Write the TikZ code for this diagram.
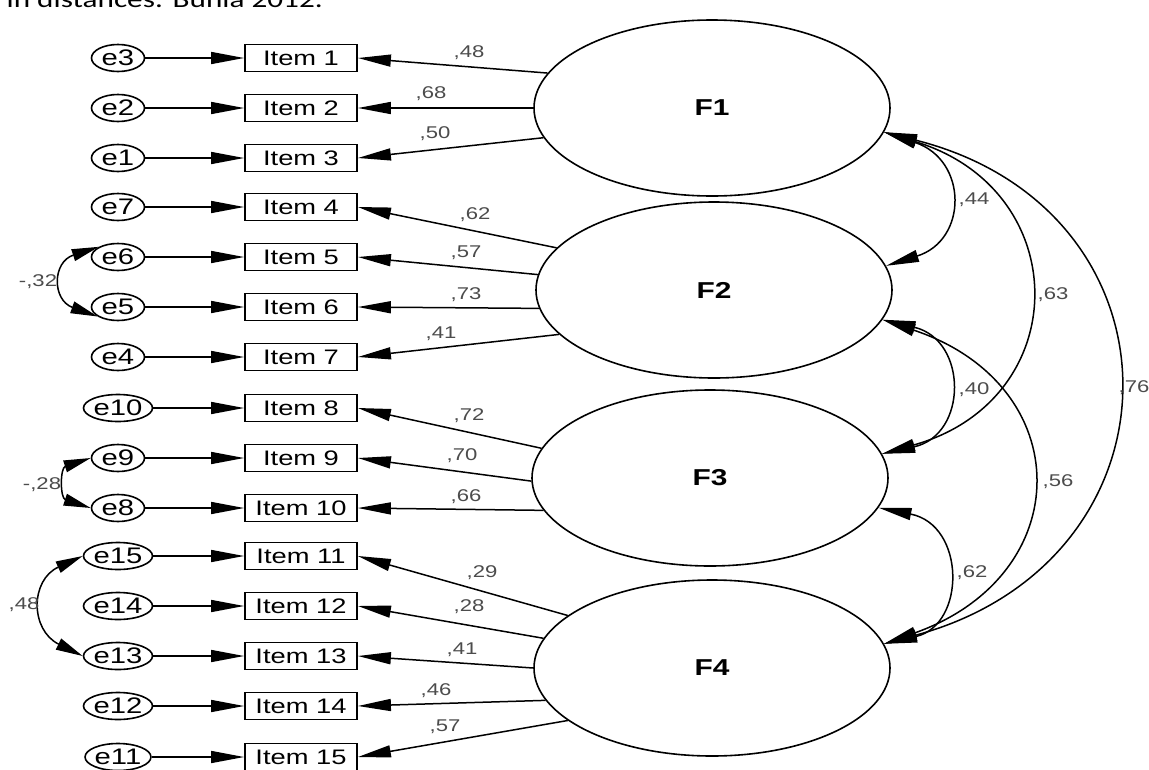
\documentclass[tikz,border=0pt]{standalone}
\usepackage{fontspec}
\setmainfont{Liberation Sans}
\newfontfamily\labfont{Liberation Sans}[FakeStretch=1.3]
\newfontfamily\capfont{Carlito}
\usetikzlibrary{shapes.geometric,arrows.meta}
\begin{document}
\begin{tikzpicture}[x=1pt,y=-1pt,
  errnode/.style={ellipse,draw,line width=1.6pt,minimum width=53pt,minimum height=27pt,inner sep=0pt,font={\labfont\fontsize{22.5}{22.5}\selectfont}},
  itembox/.style={rectangle,draw,line width=1.8pt,minimum width=112pt,minimum height=27pt,inner sep=0pt,font={\labfont\fontsize{21}{21}\selectfont}},
  factor/.style={ellipse,draw,line width=1.6pt,minimum width=356pt,minimum height=176pt,inner sep=0pt,font={\labfont\bfseries\fontsize{23}{23}\selectfont}},
  regarrow/.style={line width=1.5pt,-{Triangle[length=33pt,width=12pt]}},
  covarrow/.style={line width=1.5pt,{Triangle[length=33pt,width=12pt]}-{Triangle[length=33pt,width=12pt]}},
  smallcov/.style={line width=1.5pt,{Triangle[length=27pt,width=12pt]}-{Triangle[length=27pt,width=12pt]}},
  lab/.style={inner sep=0pt,text=black!70,font={\labfont\fontsize{17}{17}\selectfont}}
]
\useasboundingbox[fill=white] (0,0) rectangle (1149,769);

% caption fragment (cut off at the top)
\begin{scope}
  \clip (0,0) rectangle (400,9);
  \node[anchor=base east,inner sep=0pt] (cap) at (323,7) {\capfont\fontsize{24}{28}\selectfont\scalebox{1.3}[1]{in distances: Bunia 2012.}};
\end{scope}

% factors
\node[factor] (F1) at (712,108) {F1};
\node[factor] (F2) at (714,290) {F2};
\node[factor] (F3) at (710,478) {F3};
\node[factor] (F4) at (712,668) {F4};

% errors and items
\foreach \i/\y/\e in {1/58/e3,2/108/e2,3/158/e1,4/207/e7,5/257/e6,6/307/e5,7/357/e4,8/408/e10,9/458/e9,10/508/e8,11/556/e15,12/606/e14,13/656/e13,14/706/e12,15/757/e11}{
  \node[errnode] (e\i) at (118,\y) {\e};
  \node[itembox] (it\i) at (301,\y) {Item \i};
  \draw[regarrow] (e\i) -- (it\i);
}

% loadings
\foreach \i/\F/\a/\l/\lx/\ly in {1/F1/168/48/469/53,2/F1/180/68/431/94,3/F1/190/50/435/134,
  4/F2/165/62/475/215,5/F2/175/57/466/253,6/F2/186/73/466/295,7/F2/196/41/441/334,
  8/F3/170/72/469/416,9/F3/181/70/462/456,10/F3/191/66/466/497,
  11/F4/160/29/482/573,12/F4/170/28/469/607,13/F4/180/41/462/650,14/F4/191/46/436/691,15/F4/200/57/445/727}{
  \draw[regarrow] (\F.\a) -- (it\i.east);
  \node[lab] (ld\i) at (\lx,\ly) {,\l};
}

% factor covariances
\draw[covarrow] (F1.352) .. controls (968,160) and (968,240) .. (F2.8);
\draw[covarrow] (F1.352) .. controls (1075,190) and (1075,400) .. (F3.8);
\draw[covarrow] (F1.352) .. controls (1192,210) and (1192,560) .. (F4.8);
\draw[covarrow] (F2.350) .. controls (968,340) and (968,435) .. (F3.8);
\draw[covarrow] (F2.350) .. controls (1078,385) and (1078,575) .. (F4.8);
\draw[covarrow] (F3.350) .. controls (966,525) and (966,625) .. (F4.8);
\node[lab] (c12) at (974,200) {,44};
\node[lab] (c13) at (1053,295) {,63};
\node[lab] (c14) at (1134,388) {,76};
\node[lab] (c23) at (974,390) {,40};
\node[lab] (c24) at (1058,482) {,56};
\node[lab] (c34) at (972,573) {,62};

% error covariances
\draw[smallcov] (e5.152) .. controls (52,262) and (52,300) .. (e6.205);
\draw[smallcov] (e9.180) .. controls (60,468) and (60,498) .. (e10.180);
\draw[smallcov] (e11.180) .. controls (30,580) and (30,630) .. (e13.180);
\node[lab] (r56) at (38,282) {-,32};
\node[lab] (r910) at (42,485) {-,28};
\node[lab] (r1113) at (24,605) {,48};
\end{tikzpicture}
\end{document}
